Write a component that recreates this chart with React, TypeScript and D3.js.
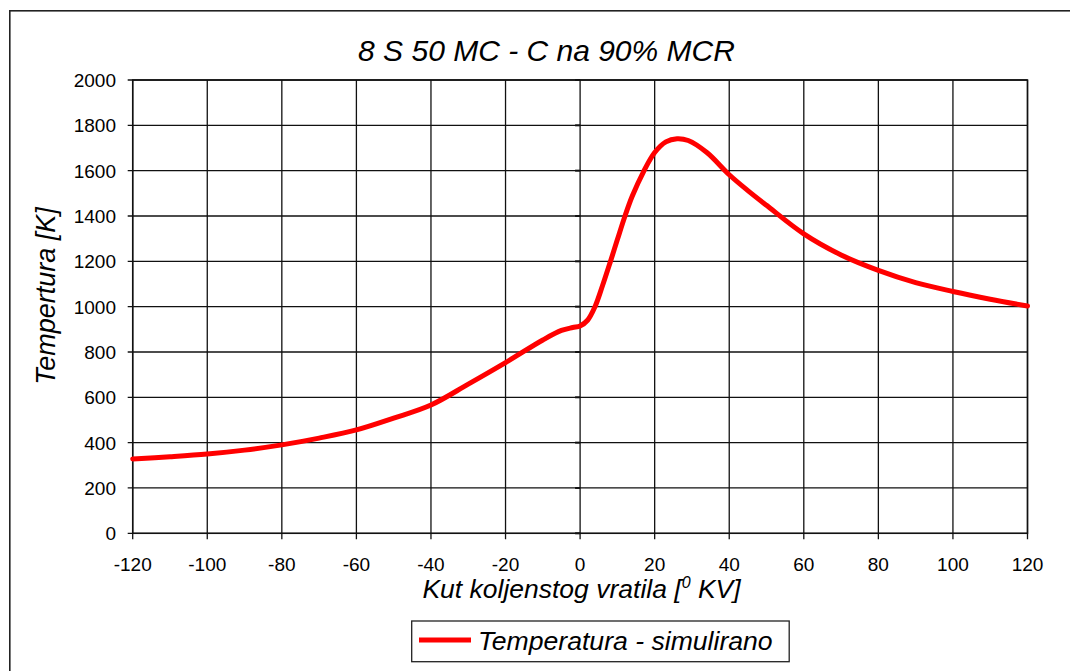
import React from "react";
import * as d3 from "d3";

const angles = [-120, -110, -100, -90, -80, -70, -60, -50, -40, -30, -20, -10, -5, -2, 0, 2, 4, 6, 8, 10, 12, 14, 17, 20, 23, 26, 29, 34, 40, 45, 50, 60, 70, 80, 90, 100, 110, 120];
const temps = [328, 338, 350, 367, 390, 420, 456, 508, 566, 658, 753, 853, 895, 908, 915, 940, 1000, 1092, 1192, 1296, 1398, 1488, 1595, 1680, 1727, 1741, 1733, 1680, 1582, 1512, 1447, 1321, 1228, 1160, 1106, 1067, 1033, 1003];
const xTicks = [-120, -100, -80, -60, -40, -20, 0, 20, 40, 60, 80, 100, 120];
const yTicks = [0, 200, 400, 600, 800, 1000, 1200, 1400, 1600, 1800, 2000];

const title = "8 S 50 MC - C na 90% MCR";
const xTitle = "Kut koljenstog vratila [";
const yTitle = "Tempertura [K]";
const seriesName = "Temperatura - simulirano";

export default function App() {
  const W = 1070, H = 671;
  const L = 132.7, R = 1027.5, T = 80, B = 533.3;
  const x = d3.scaleLinear().domain([-120, 120]).range([L, R]);
  const y = d3.scaleLinear().domain([0, 2000]).range([B, T]);
  const pts: [number, number][] = angles.map((a, i) => [a, temps[i]]);
  const line = d3.line<[number, number]>().x(d => x(d[0])).y(d => y(d[1])).curve(d3.curveCatmullRom.alpha(0.5));
  const font = "'Liberation Sans', Arial, sans-serif";
  return (
    <svg width={W} height={H} style={{ position: "absolute", left: 0, top: 0, background: "#fff" }} fontFamily={font}>
      <rect x={0} y={0} width={W} height={H} fill="#fff" />
      <rect x={9.8} y={10.8} width={W + 20} height={H + 20} fill="none" stroke="#222" strokeWidth={1.6} />
      <text x={546.5} y={61} textAnchor="middle" fontSize={30} fontStyle="italic" fill="#000">{title}</text>
      {yTicks.map(t => (
        <g key={"y" + t}>
          <line x1={L - 5} x2={R} y1={y(t)} y2={y(t)} stroke="#111" strokeWidth={1.3} />
          <line x1={x(0) - 5} x2={x(0)} y1={y(t)} y2={y(t)} stroke="#111" strokeWidth={2} />
          <text x={116} y={y(t) + 7} textAnchor="end" fontSize={19} fill="#000">{t}</text>
        </g>
      ))}
      {xTicks.map(t => (
        <g key={"x" + t}>
          <line x1={x(t)} x2={x(t)} y1={T} y2={B + 6} stroke="#111" strokeWidth={1.3} />
          <text x={x(t)} y={571} textAnchor="middle" fontSize={19} fill="#000">{t}</text>
        </g>
      ))}
      <rect x={L} y={T} width={R - L} height={B - T} fill="none" stroke="#111" strokeWidth={1.5} />
      <path d={line(pts) || ""} fill="none" stroke="#ff0000" strokeWidth={5} strokeLinejoin="round" strokeLinecap="round" />
      <text x={581.5} y={598} textAnchor="middle" fontSize={26.5} fontStyle="italic" fill="#000">
        {xTitle}
        <tspan fontSize={16} dy={-10}>0</tspan>
        <tspan dy={10}> KV]</tspan>
      </text>
      <text transform={`translate(55,296) rotate(-90)`} textAnchor="middle" fontSize={27} fontStyle="italic" fill="#000">{yTitle}</text>
      <rect x={411.7} y={621} width={377.5} height={40.7} fill="#fff" stroke="#222" strokeWidth={1.3} />
      <line x1={419} x2={471} y1={640} y2={640} stroke="#ff0000" strokeWidth={5} />
      <text x={478} y={650} fontSize={26.6} fontStyle="italic" fill="#000">{seriesName}</text>
    </svg>
  );
}
